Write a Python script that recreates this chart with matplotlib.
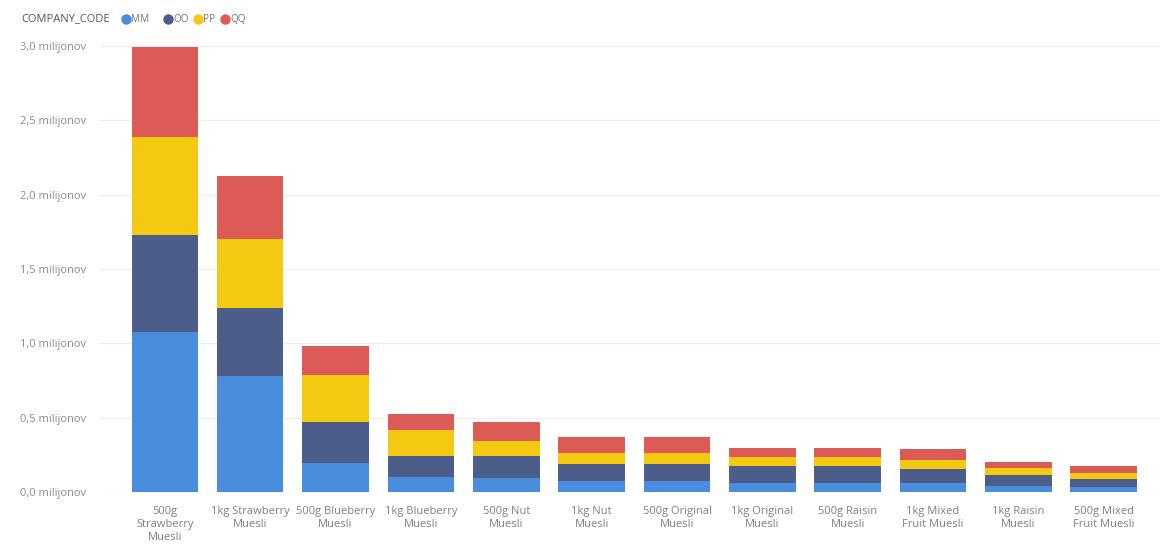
import matplotlib
matplotlib.use("Agg")
import matplotlib.pyplot as plt
from matplotlib.lines import Line2D
import numpy as np

categories = ["500g\nStrawberry\nMuesli", "1kg Strawberry\nMuesli", "500g Blueberry\nMuesli",
              "1kg Blueberry\nMuesli", "500g Nut\nMuesli", "1kg Nut\nMuesli",
              "500g Original\nMuesli", "1kg Original\nMuesli", "500g Raisin\nMuesli",
              "1kg Mixed\nFruit Muesli", "1kg Raisin\nMuesli", "500g Mixed\nFruit Muesli"]
series_names = ["MM", "OO", "PP", "QQ"]
mm = [1.076, 0.780, 0.195, 0.103, 0.096, 0.074, 0.074, 0.063, 0.063, 0.063, 0.042, 0.036]
oo = [0.652, 0.457, 0.276, 0.139, 0.146, 0.112, 0.112, 0.112, 0.112, 0.090, 0.070, 0.051]
pp = [0.660, 0.464, 0.316, 0.175, 0.101, 0.074, 0.074, 0.063, 0.063, 0.060, 0.047, 0.041]
qq = [0.603, 0.425, 0.195, 0.105, 0.126, 0.108, 0.108, 0.060, 0.060, 0.074, 0.041, 0.049]
yticks = [0.0, 0.5, 1.0, 1.5, 2.0, 2.5, 3.0]
ytick_labels = ["0,0 milijonov", "0,5 milijonov", "1,0 milijonov", "1,5 milijonov",
                "2,0 milijonov", "2,5 milijonov", "3,0 milijonov"]
colors = ["#4A8DDC", "#4C5D8A", "#F3C911", "#DC5B57"]

plt.rcParams['font.family'] = ['Open Sans', 'DejaVu Sans']

W, H = 1161, 556
fig = plt.figure(figsize=(W / 100, H / 100), dpi=100)
ax = fig.add_axes([100 / W, 1 - 492 / H, (1160 - 100) / W, 446 / H])

x = np.arange(len(categories))
bottom = np.zeros(len(categories))
for name, vals, c in zip(series_names, [mm, oo, pp, qq], colors):
    ax.bar(x, vals, width=0.78, bottom=bottom, color=c, zorder=3, label=name)
    bottom += np.array(vals)

ax.set_xlim(-0.76, 11.66)
ax.set_ylim(0, 3.0)
ax.set_yticks(yticks)
ax.set_yticklabels(ytick_labels)
ax.set_xticks(x)
ax.set_xticklabels(categories, fontsize=8, color="#808080", linespacing=1.25)
ax.tick_params(axis='both', length=0)
ax.tick_params(axis='y', pad=0, labelsize=8, labelcolor="#8C8C8C")
ax.tick_params(axis='x', pad=10)
for lab in ax.get_yticklabels():
    lab.set_horizontalalignment('left')
    lab.set_x(-80 / 1060)
ax.grid(axis='y', color="#EEEEEE", linewidth=0.9, zorder=0)
for s in ax.spines.values():
    s.set_visible(False)

# legend
ly = 1 - 19 / H
fig.text(21 / W, ly, "COMPANY_CODE", fontsize=8, color="#555555", va='center', ha='left')
leg_x = [126, 168, 198, 225]
for xp, name, c in zip(leg_x, series_names, colors):
    fig.add_artist(Line2D([xp / W], [ly], marker='o', markersize=6.5, color=c,
                          linestyle='none', transform=fig.transFigure))
    fig.text((xp + 5) / W, ly, name, fontsize=7.2, color="#777777", va='center', ha='left')

fig.savefig("out.png", dpi=100)
